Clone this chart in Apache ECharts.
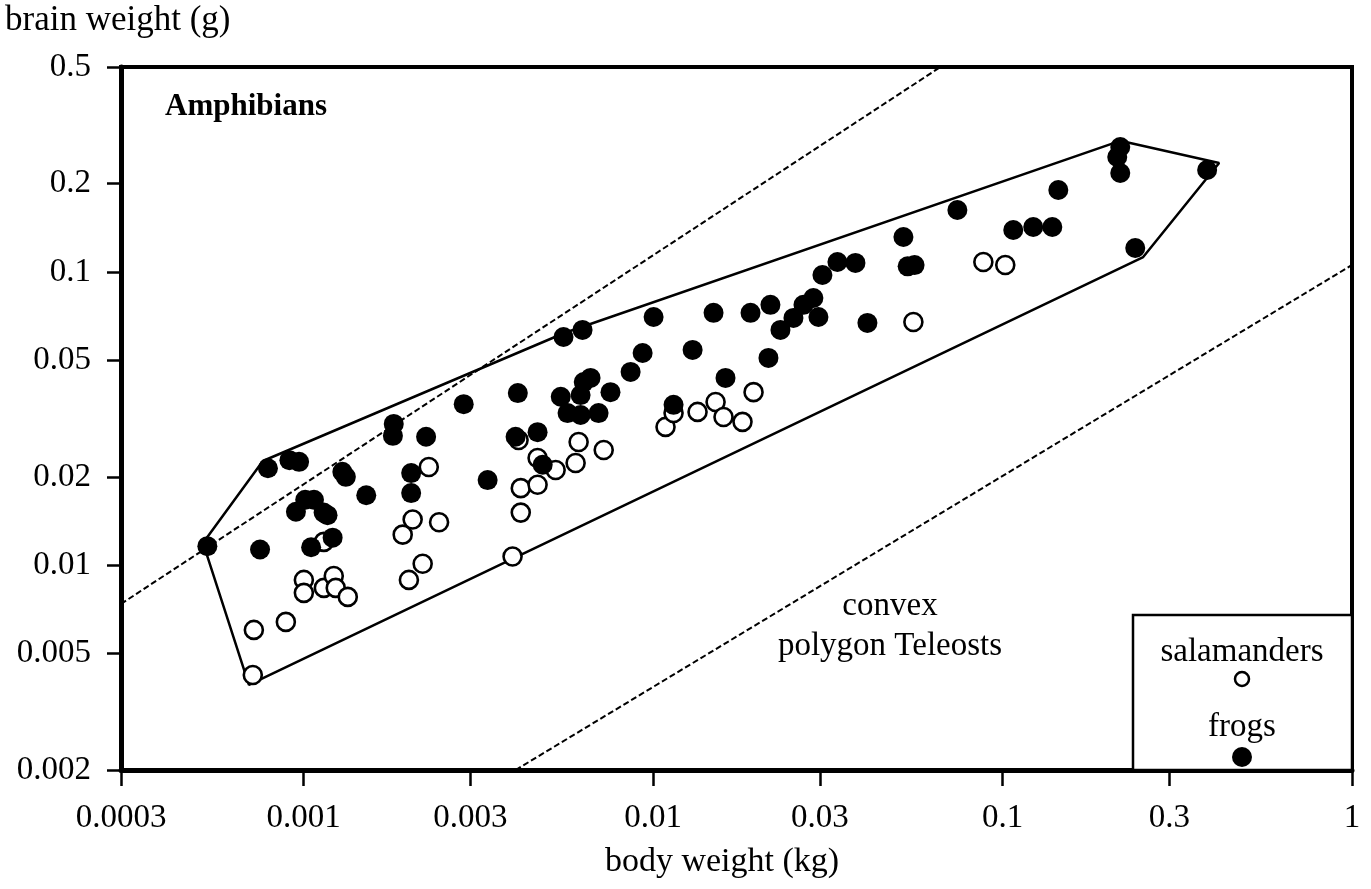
<!DOCTYPE html>
<html><head><meta charset="utf-8">
<script src="https://cdn.jsdelivr.net/npm/echarts@6/dist/echarts.min.js"></script>
<style>html,body{margin:0;padding:0;background:#fff}#c{width:1371px;height:889px}</style>
</head><body><div id="c"></div>
<script>
// ---- tick values / labels ----
const xTicks = [0.0003, 0.001, 0.003, 0.01, 0.03, 0.1, 0.3, 1];
const xTickLabels = ['0.0003', '0.001', '0.003', '0.01', '0.03', '0.1', '0.3', '1'];
const yTicks = [0.002, 0.005, 0.01, 0.02, 0.05, 0.1, 0.2, 0.5];
const yTickLabels = ['0.002', '0.005', '0.01', '0.02', '0.05', '0.1', '0.2', '0.5'];

// ---- frogs (filled): body weight kg, brain weight g ----
const frogBody = [0.00053, 0.00079, 0.00075, 0.00091, 0.00097, 0.00095, 0.00101, 0.00107, 0.00114, 0.00117,
  0.00121, 0.00105, 0.00129, 0.00132, 0.00151, 0.00181, 0.00180, 0.00203, 0.00203, 0.00224,
  0.00287, 0.00336, 0.00410, 0.00404, 0.00467, 0.00483, 0.00544, 0.00554, 0.00628, 0.00569,
  0.00620, 0.00698, 0.00633, 0.00662, 0.00620, 0.00755, 0.00862, 0.00933, 0.01003, 0.01144,
  0.01297, 0.01489, 0.01611, 0.01900, 0.02138, 0.02166, 0.02314, 0.02521, 0.02693, 0.02875,
  0.02972, 0.03051, 0.03368, 0.03793, 0.04104, 0.05203, 0.0535, 0.0560, 0.07425, 0.1073,
  0.1224, 0.1388, 0.1444, 0.2172, 0.2129, 0.2172, 0.2397, 0.3850];
const frogBrain = [0.0116, 0.0214, 0.0113, 0.0228, 0.0225, 0.0152, 0.0167, 0.0167, 0.0151, 0.0148,
  0.0124, 0.0115, 0.0208, 0.0200, 0.0173, 0.0303, 0.0276, 0.0206, 0.0176, 0.0274,
  0.0354, 0.0195, 0.0386, 0.0274, 0.0284, 0.0220, 0.0375, 0.0600, 0.0634, 0.0330,
  0.0325, 0.0330, 0.0421, 0.0435, 0.0380, 0.0389, 0.0456, 0.0529, 0.0702, 0.0352,
  0.0542, 0.0725, 0.0435, 0.0725, 0.0509, 0.0772, 0.0634, 0.0697, 0.0772, 0.0815,
  0.0702, 0.0976, 0.1081, 0.1073, 0.0670, 0.1316, 0.1045, 0.1055, 0.1626, 0.1390,
  0.1423, 0.1423, 0.1903, 0.2667, 0.2466, 0.2175, 0.1207, 0.2227];

// ---- salamanders (open) ----
const salBody = [0.000715, 0.00072, 0.000889, 0.001001, 0.001001, 0.001142, 0.001219, 0.001235, 0.001337, 0.001142,
  0.00192, 0.00205, 0.00244, 0.0020, 0.00219, 0.00228, 0.00396, 0.00418, 0.00418, 0.00467,
  0.00467, 0.00526, 0.0060, 0.00612, 0.00722, 0.00412, 0.01085, 0.01144, 0.0134, 0.01509,
  0.0159, 0.01802, 0.01938, 0.05556, 0.0881, 0.1018];
const salBrain = [0.00422, 0.00601, 0.0064, 0.0089, 0.00804, 0.00836, 0.00918, 0.00836, 0.00779, 0.0120,
  0.0127, 0.0143, 0.0140, 0.0089, 0.0101, 0.0216, 0.0107, 0.0151, 0.0183, 0.0188,
  0.0232, 0.0211, 0.0223, 0.0263, 0.0247, 0.0267, 0.0296, 0.0330, 0.0333, 0.0360,
  0.0320, 0.0308, 0.0389, 0.0675, 0.1081, 0.1056];

// ---- convex polygon of amphibians ----
const hullBody = [0.000515, 0.000764, 0.00557, 0.217, 0.4166, 0.2526, 0.000697, 0.000515];
const hullBrain = [0.0119, 0.02265, 0.0619, 0.28, 0.2352, 0.1124, 0.0039, 0.0119];

// ---- teleost polygon boundaries (dashed) ----
const teleUpperBody = [0.0003, 0.0664];
const teleUpperBrain = [0.00737, 0.5];
const teleLowerBody = [0.00404, 1];
const teleLowerBrain = [0.002, 0.1056];

const FONT = 'Liberation Serif';
const zip = (a, b) => a.map((v, i) => [v, b[i]]);
function fmt(ticks, labels) {
  return function (v) {
    let best = 0, d = Infinity;
    ticks.forEach((t, i) => { const e = Math.abs(Math.log(v) - Math.log(t)); if (e < d) { d = e; best = i; } });
    return labels[best];
  };
}

const chart = echarts.init(document.getElementById('c'), null, { renderer: 'canvas' });
chart.setOption({
  animation: false,
  backgroundColor: '#fff',
  grid: { left: 121, right: 19, top: 67, bottom: 119, show: true, borderColor: '#000', borderWidth: 4, backgroundColor: 'transparent' },
  xAxis: {
    type: 'log', logBase: 10, min: 0.0003, max: 1,
    axisLine: { show: true, lineStyle: { color: '#000', width: 5 } },
    axisTick: { show: true, customValues: xTicks, length: 16, lineStyle: { color: '#000', width: 2.5 } },
    axisLabel: { show: true, customValues: xTicks, margin: 32, fontSize: 33, fontFamily: FONT, color: '#000', formatter: fmt(xTicks, xTickLabels) },
    splitLine: { show: false }, minorTick: { show: false }
  },
  yAxis: {
    type: 'log', logBase: 10, min: 0.002, max: 0.5,
    axisLine: { show: true, lineStyle: { color: '#000', width: 5 } },
    axisTick: { show: true, customValues: yTicks, length: 14, lineStyle: { color: '#000', width: 2.5 } },
    axisLabel: { show: true, customValues: yTicks, margin: 30, fontSize: 33, fontFamily: FONT, color: '#000', formatter: fmt(yTicks, yTickLabels) },
    splitLine: { show: false }, minorTick: { show: false }
  },
  series: [
    { type: 'line', data: zip(hullBody, hullBrain), symbol: 'none', z: 1,
      lineStyle: { color: '#000', width: 2.5 } },
    { type: 'line', data: zip(teleUpperBody, teleUpperBrain), symbol: 'none', z: 1,
      lineStyle: { color: '#000', width: 2, type: [6, 3] } },
    { type: 'line', data: zip(teleLowerBody, teleLowerBrain), symbol: 'none', z: 1,
      lineStyle: { color: '#000', width: 2, type: [6, 3] } },
    { name: 'salamanders', type: 'scatter', data: zip(salBody, salBrain), symbol: 'circle', symbolSize: 18, z: 2,
      itemStyle: { color: '#fff', borderColor: '#000', borderWidth: 2.6, opacity: 1 } },
    { name: 'frogs', type: 'scatter', data: zip(frogBody, frogBrain), symbol: 'circle', symbolSize: 20, z: 3,
      itemStyle: { color: '#000', opacity: 1 } }
  ],
  graphic: [
    { type: 'text', left: 5, top: 3, style: { text: 'brain weight (g)', font: '35px "Liberation Serif"', fill: '#000' } },
    { type: 'text', left: 165, top: 91, style: { text: 'Amphibians', font: 'bold 31px "Liberation Serif"', fill: '#000' } },
    { type: 'text', x: 890, y: 626, style: { text: 'convex\npolygon Teleosts', font: '33px "Liberation Serif"', fill: '#000', align: 'center', verticalAlign: 'middle', lineHeight: 40 } },
    { type: 'text', x: 722, y: 862, style: { text: 'body weight (kg)', font: '34px "Liberation Serif"', fill: '#000', align: 'center', verticalAlign: 'middle' } },
    { type: 'rect', shape: { x: 1133, y: 615, width: 219, height: 155 }, style: { fill: '#fff', stroke: '#000', lineWidth: 2.5 }, z: 10 },
    { type: 'text', x: 1242, y: 652, z: 11, style: { text: 'salamanders', font: '33px "Liberation Serif"', fill: '#000', align: 'center', verticalAlign: 'middle' } },
    { type: 'circle', shape: { cx: 1242, cy: 679, r: 7 }, z: 11, style: { fill: '#fff', stroke: '#000', lineWidth: 2.5 } },
    { type: 'text', x: 1242, y: 727, z: 11, style: { text: 'frogs', font: '33px "Liberation Serif"', fill: '#000', align: 'center', verticalAlign: 'middle' } },
    { type: 'circle', shape: { cx: 1242, cy: 757, r: 10 }, z: 11, style: { fill: '#000' } }
  ]
});
</script></body></html>
